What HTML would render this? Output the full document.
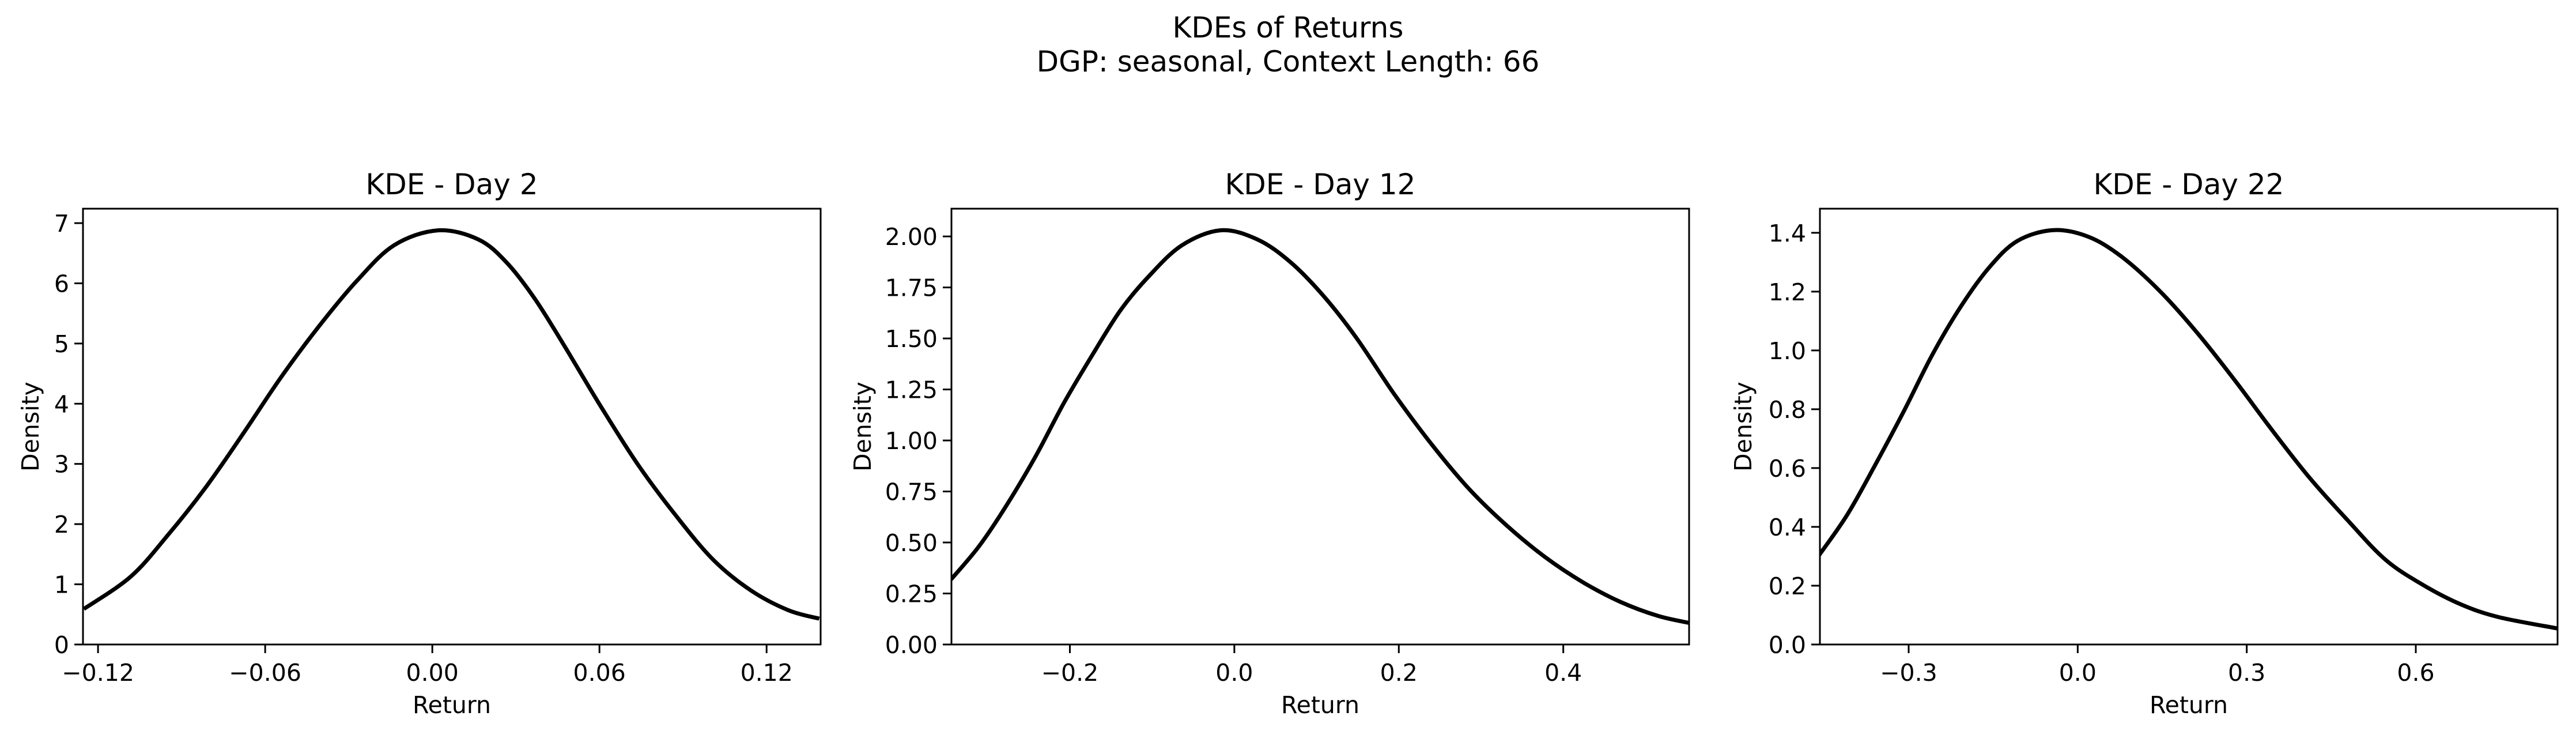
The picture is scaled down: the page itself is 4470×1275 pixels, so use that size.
<!DOCTYPE html>
<html><head><meta charset="utf-8"><style>
html,body{margin:0;padding:0;background:#fff;}
svg{display:block;font-family:"DejaVu Sans","Liberation Sans",sans-serif;}
</style></head><body>
<svg id="fig" width="4470" height="1275" viewBox="0 0 4470 1275" xmlns="http://www.w3.org/2000/svg">
<rect width="4470" height="1275" fill="#fff"/>
<text x="2235" y="65" text-anchor="middle" font-size="50">KDEs of Returns</text>
<text x="2235" y="124" text-anchor="middle" font-size="50">DGP: seasonal, Context Length: 66</text>
</svg>
<script>
// Panel 1 - Day 2
const day2X = [-0.1251,-0.1082,-0.0947,-0.0812,-0.0678,-0.0543,-0.0408,-0.0273,-0.0138,0.002,0.0165,0.0266,0.0367,0.0469,0.0603,0.0738,0.0873,0.1008,0.1143,0.1278,0.1389];
const day2Y = [0.59,1.13,1.83,2.62,3.51,4.44,5.28,6.03,6.63,6.88,6.73,6.35,5.75,5.0,3.97,2.99,2.15,1.41,0.90,0.57,0.43];
const day2XTicks = [-0.12,-0.06,0,0.06,0.12];
const day2XTickLabels = ["\u22120.12","\u22120.06","0.00","0.06","0.12"];
const day2YTicks = [0,1,2,3,4,5,6,7];
const day2YTickLabels = ["0","1","2","3","4","5","6","7"];
// Panel 2 - Day 12
const day12X = [-0.3444,-0.31,-0.2756,-0.2413,-0.2069,-0.1725,-0.1381,-0.1037,-0.0636,-0.0166,0.0281,0.0682,0.1083,0.1484,0.1943,0.2401,0.286,0.3318,0.3777,0.4235,0.4693,0.5152,0.553];
const day12Y = [0.319,0.484,0.691,0.925,1.186,1.42,1.64,1.806,1.957,2.03,1.985,1.874,1.709,1.503,1.228,0.98,0.76,0.581,0.429,0.306,0.209,0.140,0.106];
const day12XTicks = [-0.2,0,0.2,0.4];
const day12XTickLabels = ["\u22120.2","0.0","0.2","0.4"];
const day12YTicks = [0,0.25,0.5,0.75,1,1.25,1.5,1.75,2];
const day12YTickLabels = ["0.00","0.25","0.50","0.75","1.00","1.25","1.50","1.75","2.00"];
// Panel 3 - Day 22
const day22X = [-0.4592,-0.409,-0.3587,-0.3084,-0.2581,-0.2078,-0.1575,-0.1073,-0.0436,0.0184,0.0771,0.1441,0.2112,0.2782,0.3453,0.4123,0.4793,0.5464,0.6134,0.6805,0.7475,0.8531];
const day22Y = [0.303,0.441,0.613,0.794,0.985,1.148,1.281,1.372,1.409,1.387,1.320,1.205,1.062,0.90,0.728,0.565,0.422,0.288,0.202,0.136,0.093,0.054];
const day22XTicks = [-0.3,0,0.3,0.6];
const day22XTickLabels = ["\u22120.3","0.0","0.3","0.6"];
const day22YTicks = [0,0.2,0.4,0.6,0.8,1,1.2,1.4];
const day22YTickLabels = ["0.0","0.2","0.4","0.6","0.8","1.0","1.2","1.4"];

const NS="http://www.w3.org/2000/svg";
const svg=document.getElementById('fig');
function mk(tag,attrs,parent){const e=document.createElementNS(NS,tag);for(const k in attrs)e.setAttribute(k,attrs[k]);(parent||svg).appendChild(e);return e;}

const panels=[
 {key:'day-2',title:'KDE - Day 2',left:144,xs:day2X,ys:day2Y,xt:day2XTicks,xl:day2XTickLabels,yt:day2YTicks,yl:day2YTickLabels,xmin:-0.1254,xmax:0.1394,ymax:7.24,ylabX:53},
 {key:'day-12',title:'KDE - Day 12',left:1651,xs:day12X,ys:day12Y,xt:day12XTicks,xl:day12XTickLabels,yt:day12YTicks,yl:day12YTickLabels,xmin:-0.344,xmax:0.553,ymax:2.136,ylabX:1497},
 {key:'day-22',title:'KDE - Day 22',left:3158,xs:day22X,ys:day22Y,xt:day22XTicks,xl:day22XTickLabels,yt:day22YTicks,yl:day22YTickLabels,xmin:-0.4575,xmax:0.8516,ymax:1.482,ylabX:3025}
];
const TOP=362,BOT=1118,W=1280;
panels.forEach(p=>{
  const g=mk('g',{});
  
  
  const sx=v=>p.left+(v-p.xmin)/(p.xmax-p.xmin)*W;
  const sy=v=>BOT-(v/p.ymax)*(BOT-TOP);
  const cp=mk('clipPath',{id:'clip-'+p.key},g);
  mk('rect',{x:p.left,y:TOP,width:W,height:BOT-TOP},cp);
  const pts=p.xs.map((x,i)=>[sx(x),sy(p.ys[i])]);
  let s='M'+pts[0][0]+','+pts[0][1];
  for(let i=0;i<pts.length-1;i++){
    const p0=pts[Math.max(0,i-1)],p1=pts[i],p2=pts[i+1],p3=pts[Math.min(pts.length-1,i+2)];
    const c1=[p1[0]+(p2[0]-p0[0])/6,p1[1]+(p2[1]-p0[1])/6];
    const c2=[p2[0]-(p3[0]-p1[0])/6,p2[1]-(p3[1]-p1[1])/6];
    s+='C'+c1[0].toFixed(1)+','+c1[1].toFixed(1)+' '+c2[0].toFixed(1)+','+c2[1].toFixed(1)+' '+p2[0].toFixed(1)+','+p2[1].toFixed(1);
  }
  const line=mk('path',{d:s,fill:'none',stroke:'#000','stroke-width':7,'clip-path':'url(#clip-'+p.key+')','stroke-linejoin':'round'},g);
  
  
  const fr=mk('rect',{x:p.left,y:TOP,width:W,height:BOT-TOP,fill:'none',stroke:'#000','stroke-width':3},g);
  
  
  p.xt.forEach((v,i)=>{
    const x=sx(v);
    mk('line',{x1:x,x2:x,y1:BOT,y2:BOT+15,stroke:'#000','stroke-width':3},g);
    const t=mk('text',{x:x,y:1181,'text-anchor':'middle','font-size':41},g);
    t.textContent=p.xl[i];
    
    
  });
  p.yt.forEach((v,i)=>{
    const y=sy(v);
    mk('line',{x1:p.left-15,x2:p.left,y1:y,y2:y,stroke:'#000','stroke-width':3},g);
    const t=mk('text',{x:p.left-24,y:y+15,'text-anchor':'end','font-size':41},g);
    t.textContent=p.yl[i];
    
    
  });
  const tt=mk('text',{x:p.left+W/2,y:337,'text-anchor':'middle','font-size':50},g);
  tt.textContent=p.title;
  
  
  const xl=mk('text',{x:p.left+W/2,y:1237,'text-anchor':'middle','font-size':41},g);
  xl.textContent='Return';
  
  
  const yl=mk('text',{x:0,y:0,'text-anchor':'middle','font-size':41,transform:'translate('+(p.ylabX+14)+','+((TOP+BOT)/2)+') rotate(-90)'},g);
  yl.textContent='Density';
  
  
});
</script>
</body></html>
